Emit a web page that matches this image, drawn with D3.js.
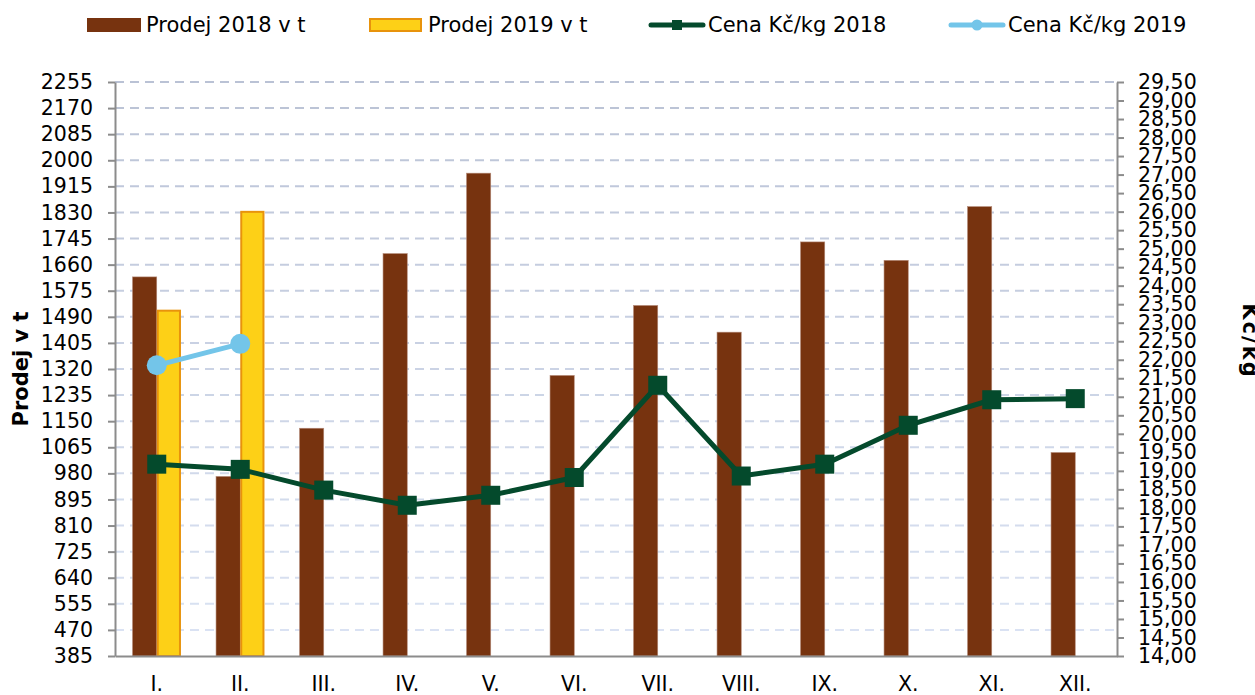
<!DOCTYPE html>
<html>
<head>
<meta charset="utf-8">
<script src="https://cdn.jsdelivr.net/npm/d3@7"></script>
<style>
  body { margin: 0; background: #fff; }
  svg { display: block; font-family: "DejaVu Sans", Verdana, sans-serif; }
</style>
</head>
<body>
<svg id="chart" width="1255" height="695"></svg>
<script>
/* ---- data ----------------------------------------------------------------- */
const months     = ['I.', 'II.', 'III.', 'IV.', 'V.', 'VI.', 'VII.', 'VIII.', 'IX.', 'X.', 'XI.', 'XII.'];
const prodej2018 = [1620, 970, 1127, 1696, 1958, 1299, 1527, 1440, 1734, 1674, 1849, 1048];
const prodej2019 = [1510, 1832];
const cena2018   = [19.18, 19.04, 18.48, 18.07, 18.34, 18.82, 21.31, 18.86, 19.18, 20.23, 20.92, 20.95];
const cena2019   = [21.85, 22.43];
const leftTicks  = d3.range(385, 2256, 85);
const rightTicks = d3.range(14, 29.51, 0.5);

const seriesNames = ['Prodej 2018 v t', 'Prodej 2019 v t', 'Cena Kč/kg 2018', 'Cena Kč/kg 2019'];

/* ---- colours / layout ----------------------------------------------------- */
const C_BROWN  = '#77330f';
const C_YELLOW = '#fdd017';
const C_ORANGE = '#e8930c';
const C_GREEN  = '#044a2c';
const C_BLUE   = '#73c5e9';
const C_AXIS   = '#8c8c8c';

const L = 115, R = 1117, T = 82, B = 656;

const svg = d3.select('#chart');

const x  = d3.scaleBand().domain(months).range([L, R]);
const bw = x.bandwidth();
const x1 = d3.scaleBand().domain(['2018', '2019']).range([bw * 0.21, bw * 0.79]);
const yL = d3.scaleLinear().domain([385, 2255]).range([B, T]);
const yR = d3.scaleLinear().domain([14, 29.5]).range([B, T]);
const cx = m => x(m) + bw / 2;

/* ---- gridlines ------------------------------------------------------------ */
const gridColor = d3.scaleLinear().domain([2255, 385]).range(['#bac2d5', '#dbe4f4']);
svg.append('g').selectAll('line')
  .data(leftTicks.filter(v => v > 385))
  .enter().append('line')
  .attr('x1', L).attr('x2', R)
  .attr('y1', d => yL(d)).attr('y2', d => yL(d))
  .attr('stroke', d => gridColor(d))
  .attr('stroke-width', 2)
  .attr('stroke-dasharray', '9,6');

/* ---- bars ----------------------------------------------------------------- */
svg.append('g').selectAll('rect')
  .data(prodej2018.map((v, i) => ({ m: months[i], v })))
  .enter().append('rect')
  .attr('x', d => x(d.m) + x1('2018'))
  .attr('y', d => yL(d.v))
  .attr('width', x1.bandwidth())
  .attr('height', d => B - yL(d.v))
  .attr('fill', C_BROWN)
  .attr('stroke', '#b58a78').attr('stroke-width', 0.6);

svg.append('g').selectAll('rect')
  .data(prodej2019.map((v, i) => ({ m: months[i], v })))
  .enter().append('rect')
  .attr('x', d => x(d.m) + x1('2019') + 1)
  .attr('y', d => yL(d.v))
  .attr('width', x1.bandwidth() - 2)
  .attr('height', d => B - yL(d.v))
  .attr('fill', C_YELLOW)
  .attr('stroke', C_ORANGE).attr('stroke-width', 2);

/* ---- axes ----------------------------------------------------------------- */
function styleAxis(g) {
  g.select('.domain').attr('stroke', C_AXIS).attr('stroke-width', 2);
  g.selectAll('.tick line').attr('stroke', C_AXIS).attr('stroke-width', 2);
  g.selectAll('.tick text').attr('fill', '#000').style('font-size', '20.5px')
    .style('font-family', '"DejaVu Sans", Verdana, sans-serif');
}

svg.append('g')
  .attr('transform', `translate(${L},0)`)
  .call(d3.axisLeft(yL).tickValues(leftTicks).tickSize(7).tickSizeOuter(0).tickPadding(15).tickFormat(d3.format('d')))
  .call(styleAxis);

svg.append('g')
  .attr('transform', `translate(${R},0)`)
  .call(d3.axisRight(yR).tickValues(rightTicks).tickSize(7).tickSizeOuter(0).tickPadding(14)
    .tickFormat(d => d.toFixed(2).replace('.', ',')))
  .call(styleAxis);

svg.append('g')
  .attr('transform', `translate(0,${B})`)
  .call(d3.axisBottom(x).tickSize(0).tickPadding(20))
  .call(styleAxis);

/* ---- lines ---------------------------------------------------------------- */
const line = d3.line().x(d => cx(d.m)).y(d => yR(d.v));
const pts2018 = cena2018.map((v, i) => ({ m: months[i], v }));
const pts2019 = cena2019.map((v, i) => ({ m: months[i], v }));

svg.append('path').datum(pts2018)
  .attr('d', line).attr('fill', 'none')
  .attr('stroke', C_GREEN).attr('stroke-width', 5).attr('stroke-linejoin', 'round');
svg.append('g').selectAll('rect')
  .data(pts2018).enter().append('rect')
  .attr('x', d => cx(d.m) - 9.5).attr('y', d => yR(d.v) - 9.5)
  .attr('width', 19).attr('height', 19)
  .attr('fill', C_GREEN);

svg.append('path').datum(pts2019)
  .attr('d', line).attr('fill', 'none')
  .attr('stroke', C_BLUE).attr('stroke-width', 5).attr('stroke-linejoin', 'round');
svg.append('g').selectAll('circle')
  .data(pts2019).enter().append('circle')
  .attr('cx', d => cx(d.m)).attr('cy', d => yR(d.v)).attr('r', 10)
  .attr('fill', C_BLUE);

/* ---- axis titles ---------------------------------------------------------- */
svg.append('text')
  .attr('transform', `translate(28,${(T + B) / 2}) rotate(-90)`)
  .attr('text-anchor', 'middle')
  .style('font-size', '21px').style('font-weight', 'bold')
  .text('Prodej v t');

svg.append('text')
  .attr('transform', 'translate(1243,341) rotate(90)')
  .attr('text-anchor', 'middle')
  .style('font-size', '21px').style('font-weight', 'bold')
  .style('letter-spacing', '2px')
  .text('Kč/kg');

/* ---- legend --------------------------------------------------------------- */
const legendX = [87, 369, 649, 949];
const leg = svg.append('g').attr('class', 'legend');
seriesNames.forEach((name, i) => {
  const g = leg.append('g').attr('transform', `translate(${legendX[i]},0)`);
  if (i === 0) {
    g.append('rect').attr('x', 0).attr('y', 18).attr('width', 54).attr('height', 14).attr('fill', C_BROWN);
  } else if (i === 1) {
    g.append('rect').attr('x', 1).attr('y', 19).attr('width', 51).attr('height', 12)
      .attr('fill', C_YELLOW).attr('stroke', C_ORANGE).attr('stroke-width', 2);
  } else {
    const col = i === 2 ? C_GREEN : C_BLUE;
    g.append('line').attr('x1', 2).attr('x2', 54).attr('y1', 25).attr('y2', 25)
      .attr('stroke', col).attr('stroke-width', 5).attr('stroke-linecap', 'round');
    if (i === 2) {
      g.append('rect').attr('x', 23).attr('y', 20).attr('width', 10).attr('height', 10).attr('fill', col);
    } else {
      g.append('circle').attr('cx', 28).attr('cy', 25).attr('r', 5.5).attr('fill', col);
    }
  }
  g.append('text').attr('x', 59).attr('y', 32)
    .style('font-size', '21px').attr('fill', '#000')
    .text(name);
});
</script>
</body>
</html>
